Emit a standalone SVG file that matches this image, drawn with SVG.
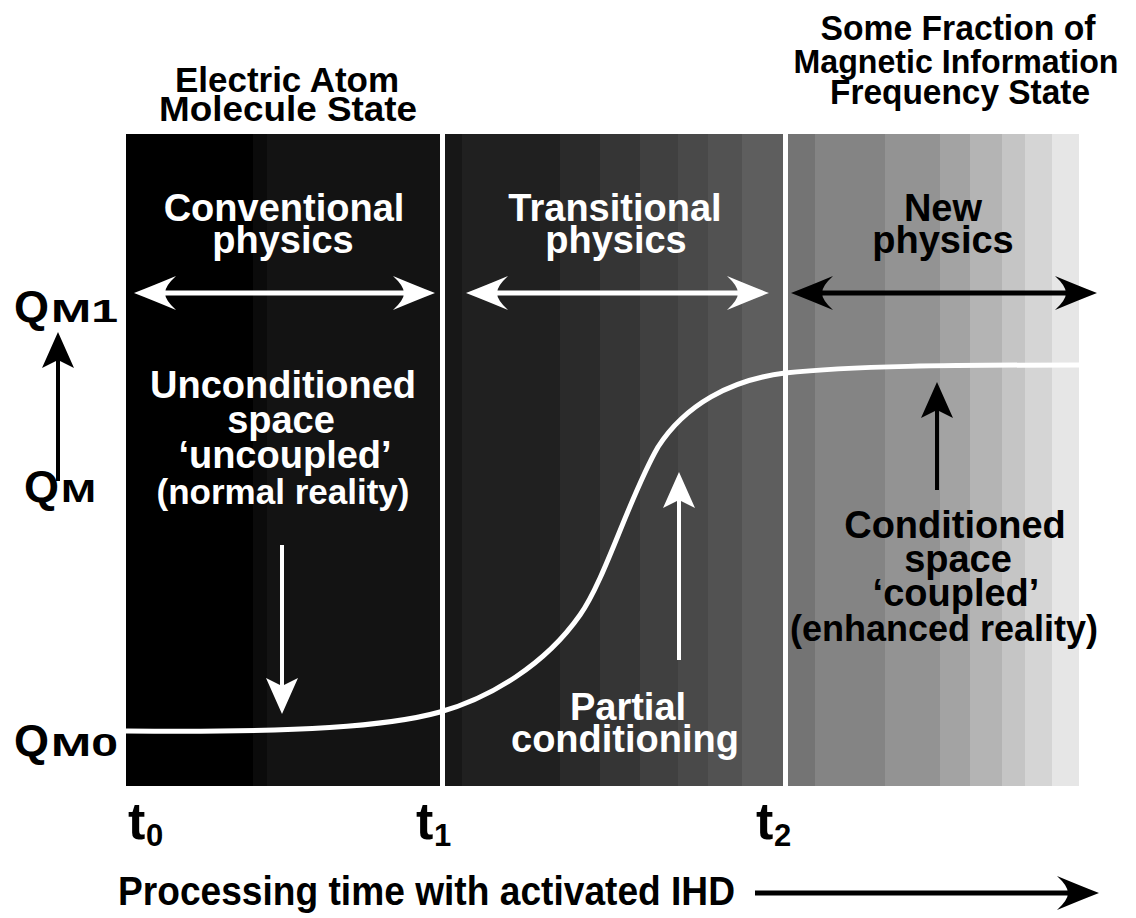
<svg xmlns="http://www.w3.org/2000/svg" width="1136" height="918" viewBox="0 0 1136 918">
<style>
text{font-family:"Liberation Sans",Arial,Helvetica,sans-serif;font-weight:bold}
.hd{font-size:35px;fill:#000;text-anchor:middle}
.w{font-size:38px;fill:#fff;text-anchor:middle}
.b{font-size:38px;fill:#000;text-anchor:middle}
.wp{font-size:35px;fill:#fff;text-anchor:middle}
.bp{font-size:36px;fill:#000;text-anchor:middle}
.q{font-size:45px;fill:#000}
.qs{font-size:31px;fill:#000}
.t{font-size:52px;fill:#000}
.ts{font-size:31px;fill:#000}
.sep{stroke:#fff;stroke-width:5}
.lw{stroke:#fff;stroke-width:5;fill:none}
.lb{stroke:#000;stroke-width:5;fill:none}
.vw{stroke:#fff;stroke-width:4;fill:none}
.vb{stroke:#000;stroke-width:4;fill:none}
</style>
<defs>
<marker id="hw" viewBox="-44 -19 46 38" markerWidth="46" markerHeight="38" refX="-31" refY="0" orient="auto-start-reverse" markerUnits="userSpaceOnUse">
<path d="M0,0 Q-18,-7 -42,-17 Q-31,-7 -31,0 Q-31,7 -42,17 Q-18,7 0,0 Z" fill="#fff"/>
</marker>
<marker id="hb" viewBox="-44 -19 46 38" markerWidth="46" markerHeight="38" refX="-31" refY="0" orient="auto-start-reverse" markerUnits="userSpaceOnUse">
<path d="M0,0 Q-18,-7 -42,-17 Q-31,-7 -31,0 Q-31,7 -42,17 Q-18,7 0,0 Z" fill="#000"/>
</marker>
<marker id="vw" viewBox="-38 -18 40 36" markerWidth="40" markerHeight="36" refX="-28" refY="0" orient="auto" markerUnits="userSpaceOnUse">
<path d="M0,0 L-36,-16 L-28,0 L-36,16 Z" fill="#fff"/>
</marker>
<marker id="vb" viewBox="-38 -18 40 36" markerWidth="40" markerHeight="36" refX="-28" refY="0" orient="auto" markerUnits="userSpaceOnUse">
<path d="M0,0 L-36,-16 L-28,0 L-36,16 Z" fill="#000"/>
</marker>
</defs>
<rect width="1136" height="918" fill="#fff"/>

<g id="bands">
<rect x="126" y="134" width="127" height="652" fill="#000"/>
<rect x="253" y="134" width="14" height="652" fill="#0b0b0b"/>
<rect x="267" y="134" width="173" height="652" fill="#131313"/>
<rect x="445" y="134" width="17" height="652" fill="#171717"/>
<rect x="462" y="134" width="98" height="652" fill="#202020"/>
<rect x="560" y="134" width="40" height="652" fill="#2a2a2a"/>
<rect x="600" y="134" width="40" height="652" fill="#353535"/>
<rect x="640" y="134" width="38" height="652" fill="#404040"/>
<rect x="678" y="134" width="30" height="652" fill="#494949"/>
<rect x="708" y="134" width="34" height="652" fill="#525252"/>
<rect x="742" y="134" width="41" height="652" fill="#5e5e5e"/>
<rect x="788" y="134" width="27" height="652" fill="#747474"/>
<rect x="815" y="134" width="70" height="652" fill="#848484"/>
<rect x="885" y="134" width="55" height="652" fill="#939393"/>
<rect x="940" y="134" width="30" height="652" fill="#a3a3a3"/>
<rect x="970" y="134" width="32" height="652" fill="#b4b4b4"/>
<rect x="1002" y="134" width="23" height="652" fill="#c5c5c5"/>
<rect x="1025" y="134" width="27" height="652" fill="#d5d5d5"/>
<rect x="1052" y="134" width="27" height="652" fill="#e6e6e6"/>
<line class="sep" x1="442.5" y1="134" x2="442.5" y2="786"/>
<line class="sep" x1="785.5" y1="134" x2="785.5" y2="786"/>
</g>

<g id="curve">
<path d="M126,731 C300,733 390,726 440,712 C490,698 545,665 580,615 C605,580 630,495 658,447 C685,405 730,380 785,373 C850,366 950,365 1079,365" fill="none" stroke="#fff" stroke-width="5"/>
</g>

<g id="header-left">
<text class="hd" x="287" y="92" textLength="224" lengthAdjust="spacingAndGlyphs">Electric Atom</text>
<text class="hd" x="288" y="121" textLength="258" lengthAdjust="spacingAndGlyphs">Molecule State</text>
</g>
<g id="header-right">
<text class="hd" x="958" y="40" textLength="275" lengthAdjust="spacingAndGlyphs">Some Fraction of</text>
<text class="hd" x="956" y="73" font-size="33" textLength="325" lengthAdjust="spacingAndGlyphs" style="font-size:33px">Magnetic Information</text>
<text class="hd" x="960" y="104" textLength="260" lengthAdjust="spacingAndGlyphs">Frequency State</text>
</g>

<g id="conventional">
<text class="w" x="284" y="221">Conventional</text>
<text class="w" x="283" y="253">physics</text>
</g>
<g id="transitional">
<text class="w" x="615" y="221">Transitional</text>
<text class="w" x="616" y="253">physics</text>
</g>
<g id="new">
<text class="b" x="943" y="221">New</text>
<text class="b" x="943" y="253">physics</text>
</g>
<g id="unconditioned">
<text class="w" x="283" y="398">Unconditioned</text>
<text class="w" x="281" y="433">space</text>
<text class="w" x="285" y="468">‘uncoupled’</text>
<text class="wp" x="283" y="504">(normal reality)</text>
</g>
<g id="partial">
<text class="w" x="628" y="720">Partial</text>
<text class="w" x="625" y="752">conditioning</text>
</g>
<g id="conditioned">
<text class="b" x="955" y="538">Conditioned</text>
<text class="b" x="958" y="572">space</text>
<text class="b" x="956" y="606">‘coupled’</text>
<text class="bp" x="944" y="641">(enhanced reality)</text>
</g>

<g id="qm1"><text class="q" x="14" y="322">Q</text><text class="qs" x="51" y="322" textLength="67" lengthAdjust="spacingAndGlyphs">M1</text></g>
<g id="qm"><text class="q" x="24" y="502">Q</text><text class="qs" x="61" y="502" textLength="35" lengthAdjust="spacingAndGlyphs">M</text></g>
<g id="qm0"><text class="q" x="14" y="756">Q</text><text class="qs" x="51" y="756" textLength="67" lengthAdjust="spacingAndGlyphs">M0</text></g>

<g id="t0"><text class="t" x="128" y="839">t</text><text class="ts" x="146" y="846">0</text></g>
<g id="t1"><text class="t" x="416" y="839">t</text><text class="ts" x="434" y="846">1</text></g>
<g id="t2"><text class="t" x="756" y="839">t</text><text class="ts" x="774" y="846">2</text></g>

<g id="xlabel">
<text x="118" y="905" font-size="41" fill="#000" textLength="617" lengthAdjust="spacingAndGlyphs">Processing time with activated IHD</text>
</g>

<g id="connectors">
<line class="lw" x1="165" y1="293" x2="404" y2="293" marker-start="url(#hw)" marker-end="url(#hw)"/>
<line class="lw" x1="497" y1="293" x2="738" y2="293" marker-start="url(#hw)" marker-end="url(#hw)"/>
<line class="lb" x1="822" y1="293" x2="1066" y2="293" marker-start="url(#hb)" marker-end="url(#hb)"/>
<line class="vb" x1="58" y1="481" x2="58" y2="360" marker-end="url(#vb)"/>
<line class="vw" x1="282" y1="545" x2="282" y2="686" marker-end="url(#vw)"/>
<line class="vw" x1="679" y1="660" x2="679" y2="500" marker-end="url(#vw)"/>
<line class="vb" x1="937" y1="490" x2="937" y2="410" marker-end="url(#vb)"/>
<line class="lb" x1="755" y1="893" x2="1068" y2="893" stroke-width="4" marker-end="url(#hb)"/>
</g>
</svg>
